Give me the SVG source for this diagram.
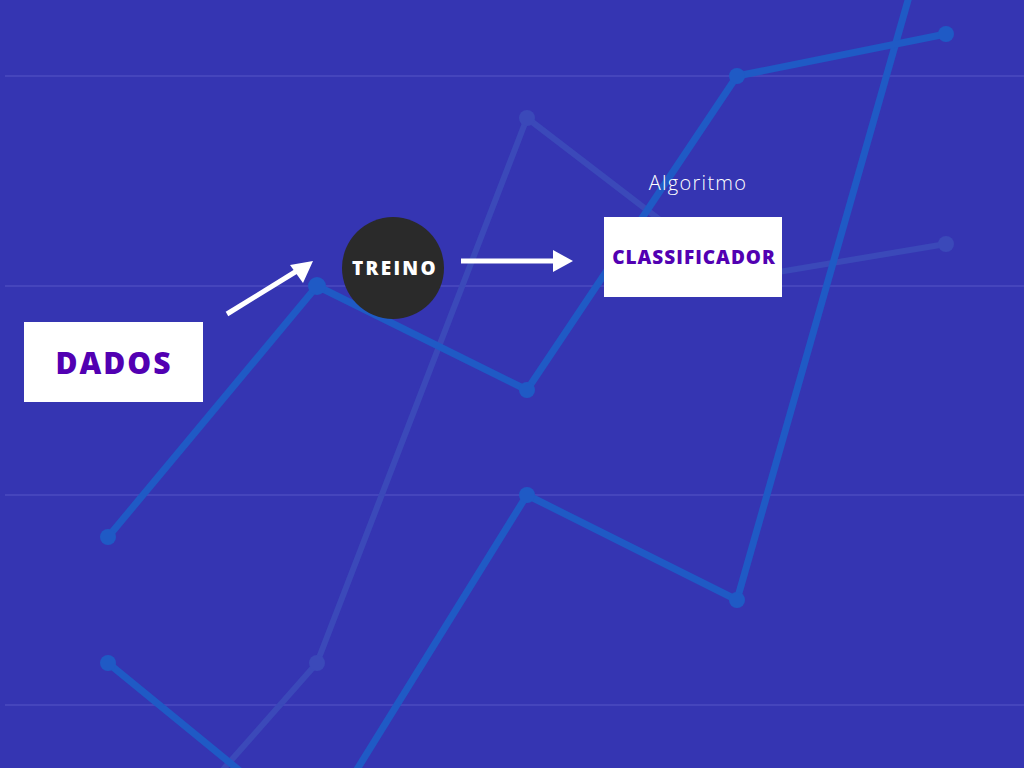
<svg xmlns="http://www.w3.org/2000/svg" width="1024" height="768" viewBox="0 0 1024 768">
<defs>
<style>
.grid{stroke:#4545BC;stroke-width:2}
.bright{fill:none;stroke:#1F5AC5;stroke-width:7;stroke-linejoin:round}
.faint{fill:none;stroke:#3B49B9;stroke-width:6;stroke-linejoin:round}
.bdot{fill:#1F5AC5}
.fdot{fill:#3B49B9}
.box{fill:#FFFFFF}
.lbl{font-family:"Open Sans","Liberation Sans",sans-serif;font-weight:800;fill:#5200B2;text-anchor:middle}
.arrow{stroke:#FFFFFF;stroke-width:5;fill:none}
.head{fill:#FFFFFF}
</style>
</defs>
<rect width="1024" height="768" fill="#3535B2"/>
<g id="grid">
<line class="grid" x1="5" y1="76" x2="1024" y2="76"/>
<line class="grid" x1="5" y1="286" x2="1024" y2="286"/>
<line class="grid" x1="5" y1="495" x2="1024" y2="495"/>
<line class="grid" x1="5" y1="705" x2="1024" y2="705"/>
</g>
<g id="chart">
<polyline class="faint" points="108,900 317,663 527,118 737,279 946,244"/>
<circle class="fdot" cx="317" cy="663" r="8"/>
<circle class="fdot" cx="527" cy="118" r="8"/>
<circle class="fdot" cx="946" cy="244" r="8"/>
<polyline class="bright" points="108,663 317,834 527,495 737,600 946,-133"/>
<circle class="bdot" cx="108" cy="663" r="8"/>
<circle class="bdot" cx="527" cy="495" r="8"/>
<circle class="bdot" cx="737" cy="600" r="8"/>
<polyline class="bright" points="108,537 317,286 527,390 737,76 946,34"/>
<circle class="bdot" cx="108" cy="537" r="8"/>
<circle class="bdot" cx="317" cy="286" r="9"/>
<circle class="bdot" cx="527" cy="390" r="8"/>
<circle class="bdot" cx="737" cy="76" r="8"/>
<circle class="bdot" cx="946" cy="34" r="8"/>
</g>
<g id="connectors">
<line class="arrow" x1="227" y1="314" x2="300" y2="269"/>
<path class="head" d="M313,261 L290,265 L303,283 Z"/>
<line class="arrow" x1="461" y1="261" x2="556" y2="261"/>
<path class="head" d="M573,261 L553,250 L553,272 Z"/>
</g>
<g id="node-dados">
<rect class="box" x="24" y="322" width="179" height="80"/>
<text class="lbl" x="114" y="374" font-size="30" letter-spacing="2">DADOS</text>
</g>
<g id="node-treino">
<circle cx="393" cy="268" r="51" fill="#2A2A2A"/>
<text x="395" y="275" font-family="'Open Sans','Liberation Sans',sans-serif" font-weight="800" font-size="19" letter-spacing="2.3" fill="#FFFFFF" text-anchor="middle">TREINO</text>
</g>
<g id="node-classificador">
<text x="698" y="190" font-family="'Open Sans','Liberation Sans',sans-serif" font-weight="300" font-size="20" letter-spacing="1.3" fill="#FFFFFF" text-anchor="middle">Algoritmo</text>
<rect class="box" x="604" y="217" width="178" height="80"/>
<text class="lbl" x="694" y="264" font-size="19" letter-spacing="1">CLASSIFICADOR</text>
</g>
</svg>
